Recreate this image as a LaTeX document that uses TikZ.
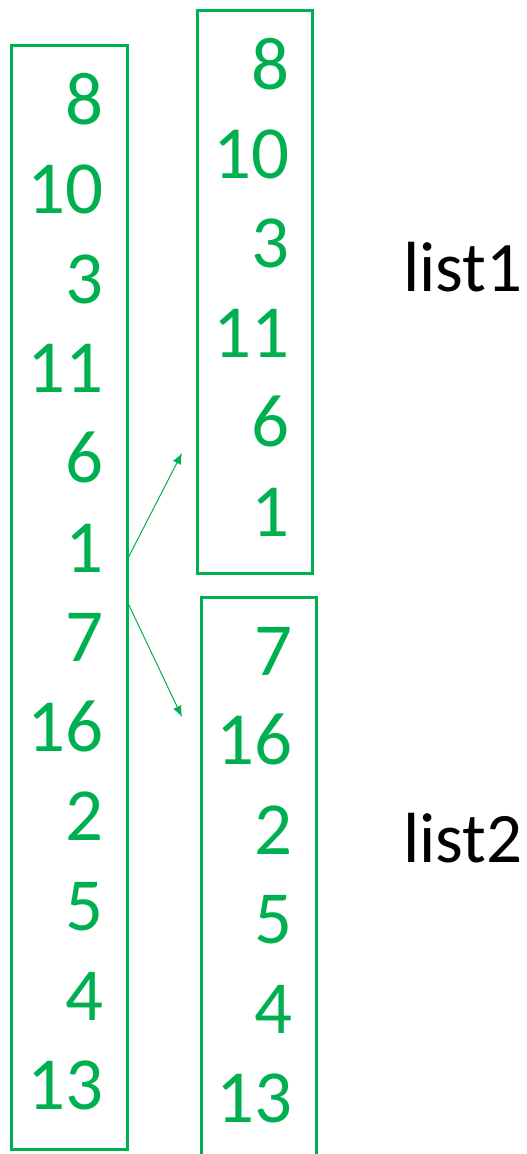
\documentclass[tikz,border=0pt]{standalone}
\usepackage{fontspec}
\setmainfont{Carlito}
\usetikzlibrary{arrows.meta}
\definecolor{ogreen}{HTML}{00B050}
\begin{document}
\begin{tikzpicture}[x=1pt,y=-1pt,
  box/.style={draw=ogreen, line width=3pt, inner sep=0pt, anchor=north west},
  num/.style={text=ogreen, anchor=base east, inner sep=0pt, font=\fontsize{75}{90}\selectfont},
  lab/.style={text=black, anchor=base west, inner sep=0pt, font=\fontsize{71}{86}\selectfont},
  arr/.style={draw=ogreen, line width=1pt, -{Latex[length=11pt,width=9pt]}}]
\useasboundingbox (0,0) rectangle (527,1154);
\clip (0,0) rectangle (527,1154);
% boxes
\node[box, minimum width=116pt, minimum height=1104pt] (b1) at (10,44) {};
\node[box, minimum width=115pt, minimum height=563pt] (b2) at (196,8.5) {};
\node[box, minimum width=115pt, minimum height=600pt] (b3) at (200,596) {};
% left column
\foreach \v [count=\i from 0] in {8,10,3,11,6,1,7,16,2,5,4,13}
  \node[num] (l\i) at (104,124+89.6*\i) {\v};
% list1 column
\foreach \v [count=\i from 0] in {8,10,3,11,6,1}
  \node[num] (m\i) at (290,89+89.4*\i) {\v};
% list2 column
\foreach \v [count=\i from 0] in {7,16,2,5,4,13}
  \node[num] (n\i) at (293,675+89.5*\i) {\v};
% labels
\node[lab] (list1) at (403,291) {list1};
\node[lab] (list2) at (403,862) {list2};
% arrows
\coordinate (s1) at (126.5,561);
\coordinate (t1) at (182,453);
\coordinate (s2) at (126.5,600);
\coordinate (t2) at (182,717);
\draw[arr] (s1) -- (t1);
\draw[arr] (s2) -- (t2);
\end{tikzpicture}
\end{document}
